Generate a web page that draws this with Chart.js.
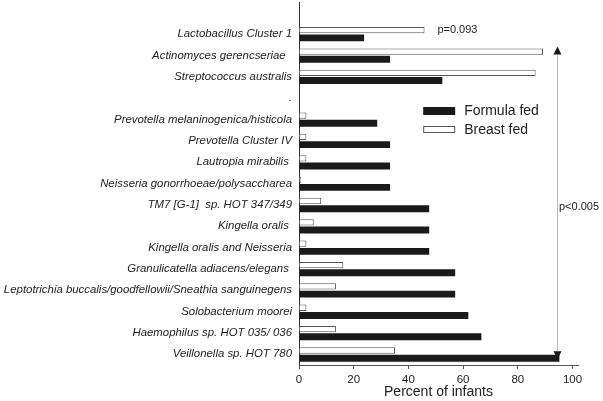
<!DOCTYPE html>
<html>
<head>
<meta charset="utf-8">
<script src="https://cdn.jsdelivr.net/npm/chart.js@4/dist/chart.umd.min.js"></script>
<style>
html,body{margin:0;padding:0;background:#fff;}
#wrap{width:603px;height:401px;position:relative;}
</style>
</head>
<body>
<div id="wrap"><canvas id="taxaChart"></canvas></div>
<script>
// taxa, top to bottom ("" and "." are the blank rows in the original figure)
const taxa = [
"",
"Lactobacillus Cluster 1",
"Actinomyces gerencseriae  ",
"Streptococcus australis",
".",
"Prevotella melaninogenica/histicola",
"Prevotella Cluster IV",
"Lautropia mirabilis ",
"Neisseria gonorrhoeae/polysaccharea",
"TM7 [G-1]  sp. HOT 347/349",
"Kingella oralis ",
"Kingella oralis and Neisseria",
"Granulicatella adiacens/elegans ",
"Leptotrichia buccalis/goodfellowii/Sneathia sanguinegens",
"Solobacterium moorei",
"Haemophilus sp. HOT 035/ 036",
"Veillonella sp. HOT 780"
];
const breastFed = [null,45.9,89.2,86.5,null,2.7,2.7,2.7,0.8,8.1,5.4,2.7,16.2,13.5,2.7,13.5,35.1];
const formulaFed = [null,23.8,33.3,52.4,null,28.6,33.3,33.3,33.3,47.6,47.6,47.6,57.1,57.1,61.9,66.7,95.2];
const xTicks = [0,20,40,60,80,100];

const extras = {
id:"extras",
afterDraw(chart){
const ctx = chart.ctx;
const xs = chart.scales.x, ys = chart.scales.y;
ctx.save();
// significance arrow
const ax = Math.round(xs.getPixelForValue(94.5)) + 0.5;
const yTop = ys.getPixelForValue(2) - 9;
const yBot = ys.getPixelForValue(16) + 5;
ctx.strokeStyle = "#777";
ctx.lineWidth = 1;
ctx.setLineDash([1,1]);
ctx.beginPath();
ctx.moveTo(ax, yTop + 6);
ctx.lineTo(ax, yBot - 6);
ctx.stroke();
ctx.setLineDash([]);
ctx.fillStyle = "#1a1a1a";
ctx.beginPath();
ctx.moveTo(ax, yTop); ctx.lineTo(ax - 4, yTop + 8); ctx.lineTo(ax + 4, yTop + 8); ctx.closePath();
ctx.fill();
ctx.beginPath();
ctx.moveTo(ax, yBot); ctx.lineTo(ax - 4, yBot - 8); ctx.lineTo(ax + 4, yBot - 8); ctx.closePath();
ctx.fill();
// p values
ctx.fillStyle = "#222";
ctx.font = "11px 'Liberation Sans', Arial, sans-serif";
ctx.textBaseline = "middle";
ctx.textAlign = "left";
ctx.fillText("p=0.093", xs.getPixelForValue(50.6), ys.getPixelForValue(1) - 4);
ctx.fillText("p<0.005", ax + 1.5, 207);
// legend
const lx = xs.getPixelForValue(45.4);
ctx.fillStyle = "#1a1a1a";
ctx.fillRect(lx, 107, 32, 8);
ctx.fillStyle = "#fff";
ctx.strokeStyle = "#555";
ctx.fillRect(lx, 126, 32, 6);
ctx.strokeRect(lx + 0.5, 126.5, 31, 6);
ctx.fillStyle = "#222";
ctx.font = "14px 'Liberation Sans', Arial, sans-serif";
ctx.fillText("Formula fed", lx + 41, 111);
ctx.fillText("Breast fed", lx + 41, 130);
ctx.restore();
}
};

new Chart(
document.getElementById("taxaChart"),
{
type:"bar",
data:{
labels:taxa,
datasets:[{
label:"Breast fed",
data:breastFed,
backgroundColor:"#ffffff",
borderColor:"#555555",
borderWidth:1,
borderSkipped:"left",
categoryPercentage:0.72,
barPercentage:0.82
},{
label:"Formula fed",
data:formulaFed,
backgroundColor:"#1a1a1a",
borderWidth:0,
categoryPercentage:0.72,
barPercentage:0.9
}]
},
options:{
indexAxis:"y",
responsive:true,
maintainAspectRatio:false,
animation:false,
layout:{padding:{top:2,right:25,left:0,bottom:0}},
plugins:{
legend:{display:false},
tooltip:{enabled:false}
},
scales:{
x:{
min:0,
max:102,
grid:{display:true,drawOnChartArea:false,drawTicks:true,tickLength:4,color:"#555"},
border:{display:true,color:"#555",width:1},
afterBuildTicks(axis){axis.ticks = xTicks.map(v => ({value:v}));},
ticks:{color:"#222",padding:4,font:{family:"'Liberation Sans', Arial, sans-serif",size:11.5}},
title:{display:true,text:"Percent of infants",color:"#222",padding:{top:2,bottom:0},font:{family:"'Liberation Sans', Arial, sans-serif",size:14}},
afterFit(axis){axis.height = 36; axis.paddingLeft = 0; axis.paddingRight = 0;}
},
y:{
grid:{display:false,drawTicks:false},
border:{display:true,color:"#333",width:1},
ticks:{color:"#222",padding:7,autoSkip:false,font:{family:"'Liberation Sans', Arial, sans-serif",size:11.4,style:"italic"}},
afterFit(axis){axis.width = 299; axis.paddingTop = 0; axis.paddingBottom = 0;}
}
}
},
plugins:[extras]
});
</script>
</body>
</html>
